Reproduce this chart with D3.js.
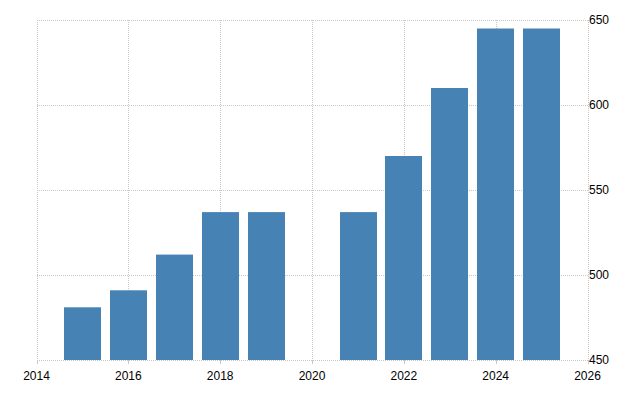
<!DOCTYPE html>
<html>
<head>
<meta charset="utf-8">
<script src="https://cdn.jsdelivr.net/npm/d3@7"></script>
<style>
  html, body { margin: 0; padding: 0; background: #fff; }
  text { font-family: "Liberation Sans", Arial, sans-serif; font-size: 12px; fill: #000; }
</style>
</head>
<body>
<svg id="chart" width="640" height="400"></svg>
<script>
const years = [2015, 2016, 2017, 2018, 2019, 2021, 2022, 2023, 2024, 2025];
const values = [481, 491, 512, 537, 537, 537, 570, 610, 645, 645];
const xTicks = [2014, 2016, 2018, 2020, 2022, 2024, 2026];
const yTicks = [450, 500, 550, 600, 650];

const svg = d3.select("#chart");
const plotLeft = 36.5, plotRight = 587.5, plotTop = 20, plotBottom = 360;

const x = d3.scaleLinear().domain([2014, 2026]).range([plotLeft, plotRight]);
const y = d3.scaleLinear().domain([450, 650]).range([plotBottom, plotTop]);
const step = x(2015) - x(2014);
const barW = step * 0.8;

const grid = svg.append("g").attr("stroke", "#c8c8c8").attr("stroke-width", 1).attr("stroke-dasharray", "1,1")
  .attr("shape-rendering", "crispEdges");
yTicks.forEach(t => {
  grid.append("line").attr("x1", Math.round(plotLeft)).attr("x2", Math.round(plotRight))
    .attr("y1", Math.round(y(t)) + 0.5).attr("y2", Math.round(y(t)) + 0.5);
});
xTicks.forEach(t => {
  grid.append("line").attr("x1", Math.round(x(t)) + 0.5).attr("x2", Math.round(x(t)) + 0.5)
    .attr("y1", plotTop).attr("y2", plotBottom);
});

svg.append("g").selectAll("rect").data(years).join("rect")
  .attr("x", (d) => Math.round(x(d) - barW / 2))
  .attr("width", Math.round(barW))
  .attr("y", (d, i) => y(values[i]))
  .attr("height", (d, i) => plotBottom - y(values[i]))
  .attr("fill", "#4682b4");

// x axis ticks
const xa = svg.append("g");
xTicks.forEach(t => {
  xa.append("line").attr("x1", Math.round(x(t)) + 0.5).attr("x2", Math.round(x(t)) + 0.5)
    .attr("y1", plotBottom).attr("y2", plotBottom + 4).attr("stroke", "#c8c8c8");
  xa.append("text").attr("x", x(t)).attr("y", 380).attr("text-anchor", "middle").text(t);
});

// y axis labels (right)
const ya = svg.append("g");
yTicks.forEach(t => {
  ya.append("text").attr("x", 589).attr("y", y(t) + 4).attr("text-anchor", "start").text(t);
});
</script>
</body>
</html>
